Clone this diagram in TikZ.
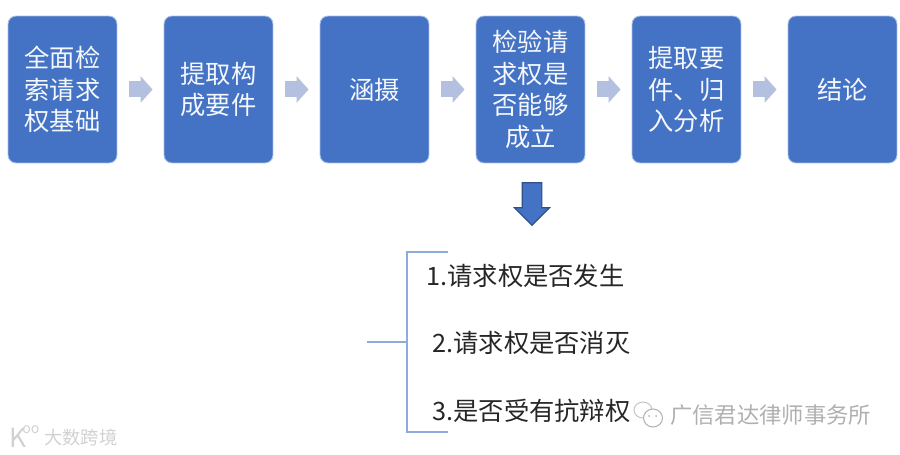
\documentclass[tikz,border=0pt]{standalone}
\usepackage{fontspec}
\setmainfont{Noto Sans CJK SC}
\usepackage{color}
\usetikzlibrary{arrows.meta,shapes.arrows}
\definecolor{blk}{HTML}{4472C4}
\definecolor{blkline}{HTML}{A9BEE6}
\definecolor{flow}{HTML}{B4C0E0}
\definecolor{brk}{HTML}{8FAADC}
\definecolor{wmgray}{HTML}{B0B0B0}
\begin{document}
\begin{tikzpicture}[x=0.02cm,y=-0.02cm,
  stage/.style={draw=blkline,line width=.5pt,fill=blk,rounded corners=.16cm,minimum width=2.18cm,minimum height=2.94cm,inner sep=0pt,text=white!94!blk,align=center,font=\fontsize{14.4pt}{17.9pt}\selectfont},
  flw/.style={draw=flow,line width=.32cm,shorten <=.24cm,shorten >=.22cm,-{Triangle[length=.24cm,width=.52cm,fill=flow]}},
  item/.style={anchor=west,inner sep=0pt,text=black!85,font=\fontsize{14.4pt}{18pt}\selectfont},
  wmk/.style={inner sep=0pt,anchor=west,text=wmgray,font=\fontsize{12.7pt}{15pt}\selectfont}]
              \useasboundingbox (0,0) rectangle (900,455);
              \node[stage] (s1) at (62.5,89.5) {全面检\\索请求\\权基础};
              \node[stage] (s2) at (218.5,89.5) {提取构\\成要件};
              \node[stage] (s3) at (374.5,89.5) {涵摄};
              \node[stage] (s4) at (530.5,89.5) {检验请\\求权是\\否能够\\成立};
              \node[stage] (s5) at (686.5,89.5) {提取要\\件、归\\入分析};
              \node[stage] (s6) at (842.5,89.5) {结论};

              \draw[flw] (s1) -- (s2);
              \draw[flw] (s2) -- (s3);
              \draw[flw] (s3) -- (s4);
              \draw[flw] (s4) -- (s5);
              \draw[flw] (s5) -- (s6);

              \node[single arrow,rotate=-90,draw=blk!70!black,fill=blk,line width=.7pt,inner sep=.185cm,minimum height=.85cm,single arrow head extend=.15cm,single arrow head indent=0pt] (down) at (532,199) {};

              \coordinate (bt) at (448,252);
              \coordinate (bb) at (448,432);
              \coordinate (bv) at (407,342);
              \coordinate (stem) at (367,342);
              \draw[brk,line width=.85pt] (bt) -- (bv |- bt) -- (bv |- bb) -- (bb);
              \draw[brk,line width=.85pt] (stem) -- (bv);

              \node[item] (i1) at (426,276) {1.请求权是否发生};
              \node[item] (i2) at (432,343) {2.请求权是否消灭};
              \node[item] (i3) at (432,411) {3.是否受有抗辩权};

              % watermarks
              \draw[black!22,line width=.6pt] (643,410) circle[x radius=9,y radius=8];
              \draw[black!30,line width=.6pt,fill=white] (653,418) circle[x radius=9.5,y radius=9];
              \fill[black!30] (649,416) circle[radius=1] (656,416) circle[radius=1];
              \node[wmk] (wm1) at (670,415) {广信君达律师事务所};
              \node[wmk,text=black!18,font=\fontsize{10.4pt}{12pt}\selectfont] (wm2) at (44,438) {大数跨境};
              \node[wmk,text=black!18,font=\fontsize{15pt}{17pt}\selectfont] (wm3) at (9,438) {K};
              \node[wmk,text=black!18,font=\fontsize{8pt}{9pt}\selectfont] (wm4) at (22,430) {oo};
            \end{tikzpicture}
\end{document}
